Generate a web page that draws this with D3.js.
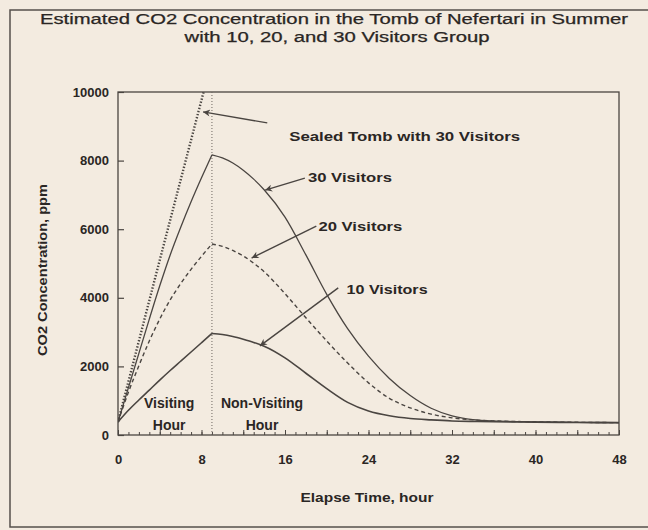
<!DOCTYPE html>
<html>
<head>
<meta charset="utf-8">
<script src="https://cdn.jsdelivr.net/npm/d3@7/dist/d3.min.js"></script>
<style>
  html, body { margin: 0; padding: 0; background: #f3ebe0; }
  svg { display: block; }
  text { font-family: "Liberation Sans", Arial, Helvetica, sans-serif; fill: #2a2624; }
</style>
</head>
<body>
<svg id="chart" width="648" height="530"></svg>
<script>
// ---- data ----
const titleLines = ["Estimated CO2 Concentration in the Tomb of Nefertari in Summer",
                    "with 10, 20, and 30 Visitors Group"];
const xTicks = [0, 8, 16, 24, 32, 40, 48];
const yTicks = [0, 2000, 4000, 6000, 8000, 10000];
const times = [0,1,2,3,4,5,6,7,8,9, 10,11,12,13,14, 16,18,20,22,24,26,28,30,32,34,36, 40,44,48];
const visitors10 = [380,720,1020,1310,1600,1880,2150,2420,2690,2960, 2930,2870,2790,2700,2590, 2250,1800,1350,950,700,560,480,440,410,395,385, 375,365,360];
const visitors20 = [380,1250,2020,2740,3380,3940,4410,4830,5210,5570, 5500,5380,5220,5010,4760, 4120,3420,2740,2100,1520,1070,790,610,500,440,410, 385,370,360];
const visitors30 = [380,1380,2380,3380,4350,5250,6050,6800,7500,8170, 8080,7930,7720,7460,7150, 6350,5250,4100,3100,2300,1650,1150,780,560,450,410, 385,370,360];
const sealedTimes = [0, 4, 8.2];
const sealed30 = [380, 5100, 10000];
const visitEnd = 9;
// annotations: text, text anchor point (t, value), arrow tail, arrow tip
const annotations = [
  {text: "Sealed Tomb with 30 Visitors", at: [16.4, 8690], tail: [14.3, 9100], tip: [8.15, 9420], len: 231},
  {text: "30 Visitors", at: [18.2, 7520], tail: [17.9, 7490], tip: [14.1, 7140], len: 84},
  {text: "20 Visitors", at: [19.2, 6090], tail: [19.0, 6090], tip: [12.8, 5160], len: 84},
  {text: "10 Visitors", at: [21.9, 4230], tail: [21.1, 4290], tip: [13.6, 2600], len: 81}
];
const periodLabels = [
  {lines: ["Visiting", "Hour"], t: 4.9},
  {lines: ["Non-Visiting", "Hour"], t: 13.8}
];

// ---- layout ----
const svg = d3.select("#chart");
const L = 118, R = 619, T = 92, B = 435;
const x = d3.scaleLinear().domain([0, 48]).range([L, R]);
const y = d3.scaleLinear().domain([0, 10000]).range([B, T]);
const ink = "#2a2624", lineCol = "#4a4541";

// outer frame
svg.append("rect").attr("x", 10).attr("y", 10).attr("width", 640).attr("height", 517)
  .attr("fill", "none").attr("stroke", "#55504b").attr("stroke-width", 1.5);

// title
svg.append("text").attr("x", 334).attr("y", 24).attr("text-anchor", "middle")
  .attr("font-size", 14).attr("textLength", 588).attr("lengthAdjust", "spacingAndGlyphs")
  .attr("stroke", "#2a2624").attr("stroke-width", 0.25).text(titleLines[0]);
svg.append("text").attr("x", 337).attr("y", 42).attr("text-anchor", "middle")
  .attr("font-size", 14).attr("textLength", 305).attr("lengthAdjust", "spacingAndGlyphs")
  .attr("stroke", "#2a2624").attr("stroke-width", 0.25).text(titleLines[1]);

// clip
svg.append("clipPath").attr("id", "clip").append("rect")
  .attr("x", L).attr("y", T).attr("width", R - L).attr("height", B - T);

// axes
const yAxis = d3.axisLeft(y).tickValues(yTicks).tickSize(-6).tickPadding(9).tickFormat(d3.format("d"));
const gy = svg.append("g").attr("transform", `translate(${L},0)`).call(yAxis);
gy.select(".domain").remove();
gy.selectAll("line").attr("stroke", lineCol).attr("stroke-width", 1.2);
gy.selectAll("text").attr("font-size", 13).attr("font-weight", "bold").attr("fill", ink)
  .attr("font-family", "Liberation Sans, Arial, sans-serif");

const xMinor = d3.axisBottom(x).tickValues(d3.range(0, 49, 1)).tickSize(-3).tickFormat("");
const gxm = svg.append("g").attr("transform", `translate(0,${B})`).call(xMinor);
gxm.select(".domain").remove();
gxm.selectAll("line").attr("stroke", lineCol).attr("stroke-width", 1);
const xMid = d3.axisBottom(x).tickValues(d3.range(0, 49, 4)).tickSize(-5).tickFormat("");
const gxq = svg.append("g").attr("transform", `translate(0,${B})`).call(xMid);
gxq.select(".domain").remove();
gxq.selectAll("line").attr("stroke", lineCol).attr("stroke-width", 1);
const xAxis = d3.axisBottom(x).tickValues(xTicks).tickSize(0).tickPadding(20).tickFormat(d3.format("d"));
const gx = svg.append("g").attr("transform", `translate(0,${B})`).call(xAxis);
gx.select(".domain").remove();
gx.selectAll("text").attr("font-size", 13).attr("font-weight", "bold").attr("fill", ink)
  .attr("font-family", "Liberation Sans, Arial, sans-serif");

// plot box
svg.append("rect").attr("x", L).attr("y", T).attr("width", R - L).attr("height", B - T)
  .attr("fill", "none").attr("stroke", lineCol).attr("stroke-width", 1.3);

// axis titles
svg.append("text").attr("x", 367).attr("y", 502).attr("text-anchor", "middle")
  .attr("font-size", 12).attr("font-weight", "bold").attr("textLength", 133).attr("lengthAdjust", "spacingAndGlyphs")
  .text("Elapse Time, hour");
svg.append("text").attr("transform", "translate(47,270) rotate(-90)").attr("text-anchor", "middle")
  .attr("font-size", 12).attr("font-weight", "bold").attr("textLength", 172).attr("lengthAdjust", "spacingAndGlyphs")
  .text("CO2 Concentration, ppm");

const plot = svg.append("g").attr("clip-path", "url(#clip)");

// visiting end line
plot.append("line").attr("x1", x(visitEnd)).attr("x2", x(visitEnd)).attr("y1", y(0)).attr("y2", y(10000))
  .attr("stroke", "#6d6660").attr("stroke-width", 1).attr("stroke-dasharray", "1,2");

// curves (rise and decay drawn as smooth pieces meeting at the end of visiting)
const line = d3.line().x(d => x(d[0])).y(d => y(d[1])).curve(d3.curveMonotoneX);
function drawSeries(vals, style) {
  const pts = times.map((t, i) => [t, vals[i]]);
  const rise = pts.filter(p => p[0] <= visitEnd);
  const decay = pts.filter(p => p[0] >= visitEnd);
  [rise, decay].forEach(seg => {
    const p = plot.append("path").attr("d", line(seg)).attr("fill", "none")
      .attr("stroke", lineCol).attr("stroke-width", style.w);
    if (style.dash) p.attr("stroke-dasharray", style.dash);
  });
}
drawSeries(visitors10, {w: 1.6});
drawSeries(visitors20, {w: 1.4, dash: "4,3"});
drawSeries(visitors30, {w: 1.3});

plot.append("path").attr("d", d3.line().x(d => x(d[0])).y(d => y(d[1]))(sealedTimes.map((t, i) => [t, sealed30[i]])))
  .attr("fill", "none").attr("stroke", "#4a4541").attr("stroke-width", 2.4).attr("stroke-dasharray", "1.4,1.8");

// arrowheads
svg.append("defs").append("marker").attr("id", "arrow").attr("viewBox", "0 0 10 10")
  .attr("refX", 10).attr("refY", 5).attr("markerWidth", 9).attr("markerHeight", 7)
  .attr("markerUnits", "userSpaceOnUse").attr("orient", "auto")
  .append("path").attr("d", "M0,0 L10,5 L0,10 L3,5 Z").attr("fill", lineCol);

annotations.forEach(a => {
  svg.append("line").attr("x1", x(a.tail[0])).attr("y1", y(a.tail[1]))
    .attr("x2", x(a.tip[0])).attr("y2", y(a.tip[1]))
    .attr("stroke", lineCol).attr("stroke-width", 1.4).attr("marker-end", "url(#arrow)");
  svg.append("text").attr("x", x(a.at[0])).attr("y", y(a.at[1])).attr("dy", "0.35em")
    .attr("font-size", 13).attr("font-weight", "bold")
    .attr("textLength", a.len).attr("lengthAdjust", "spacingAndGlyphs").text(a.text);
});

periodLabels.forEach(p => {
  p.lines.forEach((s, i) => {
    svg.append("text").attr("x", x(p.t)).attr("y", 408 + i * 22).attr("text-anchor", "middle")
      .attr("font-size", 14).attr("font-weight", "bold").text(s);
  });
});
</script>
</body>
</html>
